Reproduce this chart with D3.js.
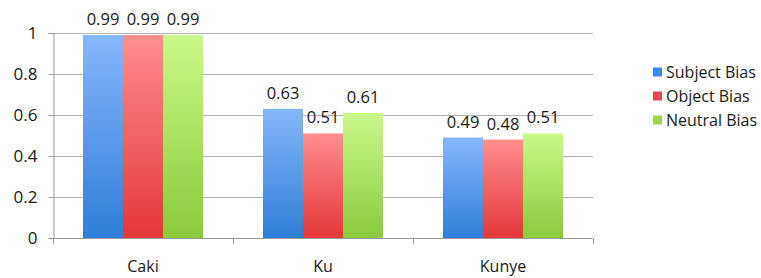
<!DOCTYPE html>
<html>
<head>
<meta charset="utf-8">
<script src="https://cdn.jsdelivr.net/npm/d3@7"></script>
<style>
    body { margin: 0; background: #fff; }
    text { font-family: "Open Sans", sans-serif; fill: #1a1a1a; }
</style>
</head>
<body>
<div id="chart"></div>
<script>
// Data
const categories = ['Caki', 'Ku', 'Kunye'];
const seriesNames = ['Subject Bias', 'Object Bias', 'Neutral Bias'];
const subjectBias = [0.99, 0.63, 0.49];
const objectBias = [0.99, 0.51, 0.48];
const neutralBias = [0.99, 0.61, 0.51];
const yTicks = [0, 0.2, 0.4, 0.6, 0.8, 1];

const seriesValues = [subjectBias, objectBias, neutralBias];

let width = 761,
    height = 278,
    margin = {top: 33, right: 168, bottom: 40, left: 53};

let chartWidth = width - margin.left - margin.right,
    chartHeight = height - margin.top - margin.bottom;

// top / bottom colours of each bar gradient
let colors = [
    {top: '#86b6fa', bottom: '#2f7ed9', key: '#3f8ae6'},
    {top: '#ff8d8d', bottom: '#e4373a', key: '#ee4a4d'},
    {top: '#cbf88a', bottom: '#8bca3c', key: '#9ed458'}
];

let svg = d3.select('#chart')
    .append('svg')
    .attr('width', width)
    .attr('height', height);

let defs = svg.append('defs');
colors.forEach(function(c, i) {
    let grad = defs.append('linearGradient')
        .attr('id', 'grad' + i)
        .attr('x1', 0).attr('y1', 0)
        .attr('x2', 0).attr('y2', 1);
    grad.append('stop').attr('offset', '0%').attr('stop-color', c.top);
    grad.append('stop').attr('offset', '100%').attr('stop-color', c.bottom);
});

let canvas = svg.append('g')
    .attr('transform', 'translate(' + margin.left + ',' + margin.top + ')');

let x0 = d3.scaleBand()
    .domain(categories)
    .range([0, chartWidth])
    .paddingInner(1 / 3)
    .paddingOuter(1 / 6);

let x1 = d3.scaleBand()
    .domain(d3.range(seriesNames.length))
    .range([0, x0.bandwidth()]);

let y = d3.scaleLinear()
    .domain([0, 1])
    .range([chartHeight, 0]);

// Gridlines
canvas.selectAll('.grid')
    .data(yTicks.slice(1))
    .enter()
    .append('line')
    .attr('class', 'grid')
    .attr('x1', 0)
    .attr('x2', chartWidth)
    .attr('y1', d => Math.round(y(d)) + 0.5)
    .attr('y2', d => Math.round(y(d)) + 0.5)
    .style('stroke', '#b4b4b4')
    .style('stroke-width', 1);

// Bars
let rows = [];
categories.forEach(function(cat, ci) {
    seriesValues.forEach(function(vals, si) {
        rows.push({cat: cat, series: si, value: vals[ci]});
    });
});

canvas.selectAll('.bar')
    .data(rows)
    .enter()
    .append('rect')
    .attr('class', 'bar')
    .attr('x', d => x0(d.cat) + x1(d.series))
    .attr('width', x1.bandwidth())
    .attr('y', d => y(d.value))
    .attr('height', d => chartHeight - y(d.value))
    .attr('fill', d => 'url(#grad' + d.series + ')');

// Value labels
canvas.selectAll('.value')
    .data(rows)
    .enter()
    .append('text')
    .attr('class', 'value')
    .attr('x', d => x0(d.cat) + x1(d.series) + x1.bandwidth() / 2)
    .attr('y', d => y(d.value) - 10)
    .attr('text-anchor', 'middle')
    .style('font-size', '16.5px')
    .text(d => d.value.toFixed(2));

// Y axis
let yAxis = d3.axisLeft(y)
    .tickValues(yTicks)
    .tickSize(5)
    .tickPadding(11)
    .tickFormat(d => d3.format('~g')(d));

let yG = canvas.append('g')
    .attr('class', 'y axis')
    .attr('transform', 'translate(0.5,0)')
    .call(yAxis);
yG.selectAll('path, line').style('stroke', '#9a9a9a');
yG.selectAll('text').style('font-size', '17px').style('font-family', '"Open Sans", sans-serif').attr('fill', '#1a1a1a');

// X axis: line with ticks between groups
let xAxisLine = canvas.append('g')
    .attr('class', 'x axis')
    .attr('transform', 'translate(0,' + (chartHeight + 0.5) + ')');

xAxisLine.append('line')
    .attr('x1', 0)
    .attr('x2', chartWidth)
    .style('stroke', '#9a9a9a');

let boundaries = categories.map(c => x0(c) - x0.step() * x0.paddingInner() / 2).concat([chartWidth]);
xAxisLine.selectAll('.xtick')
    .data(boundaries)
    .enter()
    .append('line')
    .attr('class', 'xtick')
    .attr('x1', d => Math.round(d) + 0.5)
    .attr('x2', d => Math.round(d) + 0.5)
    .attr('y1', 0)
    .attr('y2', 5)
    .style('stroke', '#9a9a9a');

canvas.selectAll('.cat')
    .data(categories)
    .enter()
    .append('text')
    .attr('class', 'cat')
    .attr('x', d => x0(d) + x0.bandwidth() / 2)
    .attr('y', chartHeight + 34)
    .attr('text-anchor', 'middle')
    .style('font-size', '16px')
    .text(d => d);

// Legend
let legend = svg.append('g')
    .attr('transform', 'translate(653,72)');

let items = legend.selectAll('.item')
    .data(seriesNames)
    .enter()
    .append('g')
    .attr('class', 'item')
    .attr('transform', (d, i) => 'translate(0,' + (i * 24) + ')');

items.append('rect')
    .attr('x', 0)
    .attr('y', -4.5)
    .attr('width', 9)
    .attr('height', 9)
    .attr('fill', (d, i) => colors[i].key);

items.append('text')
    .attr('x', 13)
    .attr('y', 6)
    .style('font-size', '16px')
    .text(d => d);
</script>
</body>
</html>
